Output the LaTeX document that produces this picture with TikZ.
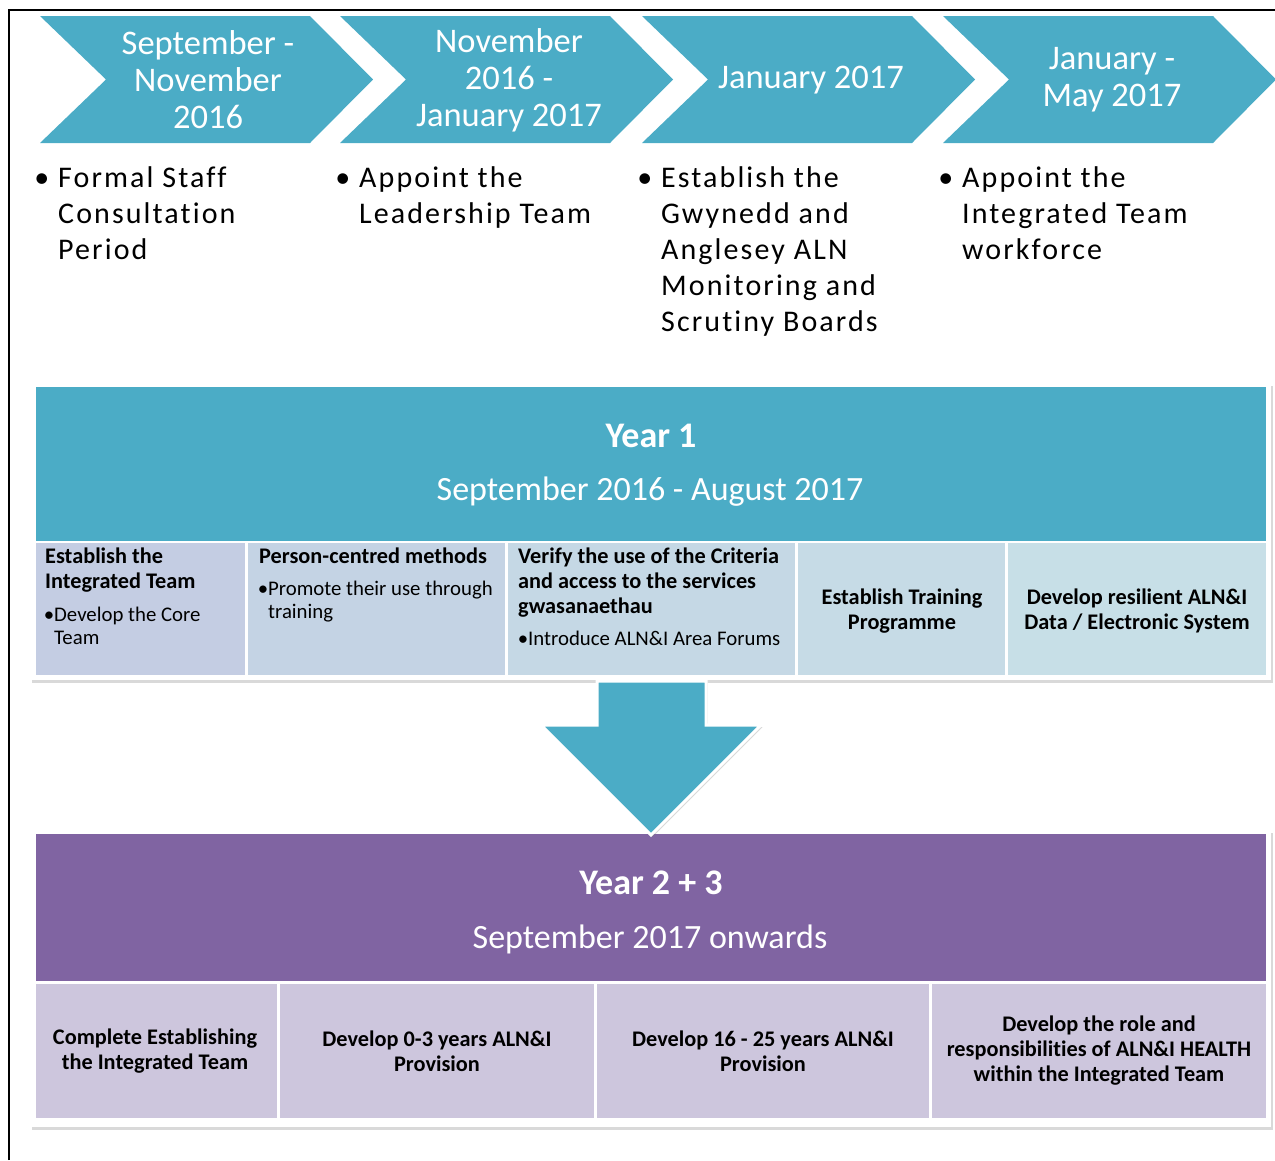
\documentclass[tikz,border=0pt]{standalone}
\usepackage{fontspec}
\setmainfont[Ligatures={NoCommon}]{Carlito}
\newfontfamily\spacedfont[LetterSpace=7,Ligatures={NoCommon}]{Carlito}
\usetikzlibrary{shadows}
\definecolor{aqua}{HTML}{4BACC6}
\definecolor{plum}{HTML}{8064A2}
\definecolor{cellA}{HTML}{C4CDE3}
\definecolor{cellB}{HTML}{C4D3E4}
\definecolor{cellC}{HTML}{C5D8E5}
\definecolor{cellD}{HTML}{C6DBE6}
\definecolor{cellE}{HTML}{C7DFE7}
\definecolor{cellP}{HTML}{CDC6DD}
\tikzset{
  chevtext/.style={text=white, align=center, inner sep=0pt, font=\fontsize{34.5}{37}\selectfont},
  toptext/.style={anchor=north west, align=left, inner sep=0pt, font=\spacedfont\fontsize{30}{36}\selectfont},
  celltitle/.style={anchor=north west, align=left, inner sep=0pt, font=\bfseries\fontsize{22.3}{25}\selectfont},
  cellbullet/.style={anchor=north west, align=left, inner sep=0pt, font=\fontsize{20.8}{23}\selectfont},
  cellcenter/.style={align=center, inner sep=0pt, font=\bfseries\fontsize{22.3}{25}\selectfont},
  bigtitle/.style={text=white, inner sep=0pt, font=\bfseries\fontsize{36}{40}\selectfont},
  subtitle/.style={text=white, inner sep=0pt, font=\fontsize{34}{38}\selectfont},
  framebox/.style={fill=white, drop shadow={opacity=0.3, shadow xshift=1.5pt, shadow yshift=-2.5pt}},
}
\begin{document}
\begin{tikzpicture}[x=1pt,y=-1pt]
\useasboundingbox (0,0) rectangle (1275,1160);
% frame
\draw[line width=2pt] (9,1160) -- (9,10) -- (1275,10);

% chevrons
\foreach \x/\n in {40/1,340/2,642/3,943/4}{
  \fill[aqua] (\x,16) -- (\x+270,16) -- (\x+333,79.5) -- (\x+270,143) -- (\x,143) -- (\x+66,79.5) -- cycle;
}
\node[chevtext] (ch1) at (208,80) {September -\\November\\2016};
\node[chevtext] (ch2) at (509,80) {November\\2016 -\\January 2017};
\node[chevtext] (ch3) at (811,80) {January 2017};
\node[chevtext] (ch4) at (1112,80) {January -\\May 2017};

% top bullets
\node[toptext] (b1) at (58,166) {\llap{\textbullet\hspace{9pt}}Formal Staff\\Consultation\\Period};
\node[toptext] (b2) at (359,166) {\llap{\textbullet\hspace{9pt}}Appoint the\\Leadership Team};
\node[toptext] (b3) at (661,166) {\llap{\textbullet\hspace{9pt}}Establish the\\Gwynedd and\\Anglesey ALN\\Monitoring and\\Scrutiny Boards};
\node[toptext] (b4) at (962,166) {\llap{\textbullet\hspace{9pt}}Appoint the\\Integrated Team\\workforce};

% Year 1 box
\path[framebox] (30,383) rectangle (1271,680);
\fill[aqua] (36,387) rectangle (1266,541);
\node[bigtitle] (y1) at (651,436) {Year 1};
\node[subtitle] (y1s) at (650,492) {September 2016 - August 2017};
\fill[cellA] (36,543) rectangle (245,675);
\fill[cellB] (248,543) rectangle (505,675);
\fill[cellC] (508,543) rectangle (795,675);
\fill[cellD] (798,543) rectangle (1005,675);
\fill[cellE] (1008,543) rectangle (1266,675);
\node[celltitle] (t1) at (45,548) {Establish the\\Integrated Team};
\node[cellbullet] (u1) at (54,607) {\llap{\textbullet}Develop the Core\\Team};
\node[celltitle] (t2) at (259,548) {Person-centred methods};
\node[cellbullet] (u2) at (268,581) {\llap{\textbullet}Promote their use through\\training};
\node[celltitle] (t3) at (518,548) {Verify the use of the Criteria\\and access to the services\\gwasanaethau};
\node[cellbullet] (u3) at (528,631) {\llap{\textbullet}Introduce ALN\&I Area Forums};
\node[cellcenter] (t4) at (902,611) {Establish Training\\Programme};
\node[cellcenter] (t5) at (1137,611) {Develop resilient ALN\&I\\Data / Electronic System};

% Year 2+3 box
\path[framebox] (30,830) rectangle (1271,1127);
\fill[plum] (36,834) rectangle (1266,981);
\node[bigtitle] (y2) at (651,883) {Year 2 + 3};
\node[subtitle] (y2s) at (650,939) {September 2017 onwards};
\fill[cellP] (36,984) rectangle (277,1118);
\fill[cellP] (280,984) rectangle (594,1118);
\fill[cellP] (597,984) rectangle (929,1118);
\fill[cellP] (932,984) rectangle (1266,1118);
\node[cellcenter] (p1) at (155,1051) {Complete Establishing\\the Integrated Team};
\node[cellcenter] (p2) at (437,1051) {Develop 0-3 years ALN\&I\\Provision};
\node[cellcenter] (p3) at (763,1051) {Develop 16 - 25 years ALN\&I\\Provision};
\node[cellcenter] (p4) at (1099,1051) {Develop the role and\\responsibilities of ALN\&I HEALTH\\within the Integrated Team};

% arrow
\path[fill=aqua, draw=white, line width=3pt, line join=miter,
      drop shadow={opacity=0.3, shadow xshift=1.5pt, shadow yshift=-2pt}]
  (597,681) -- (706,681) -- (706,725) -- (761,725) -- (651,835) -- (541,725) -- (597,725) -- cycle;
\end{tikzpicture}
\end{document}
